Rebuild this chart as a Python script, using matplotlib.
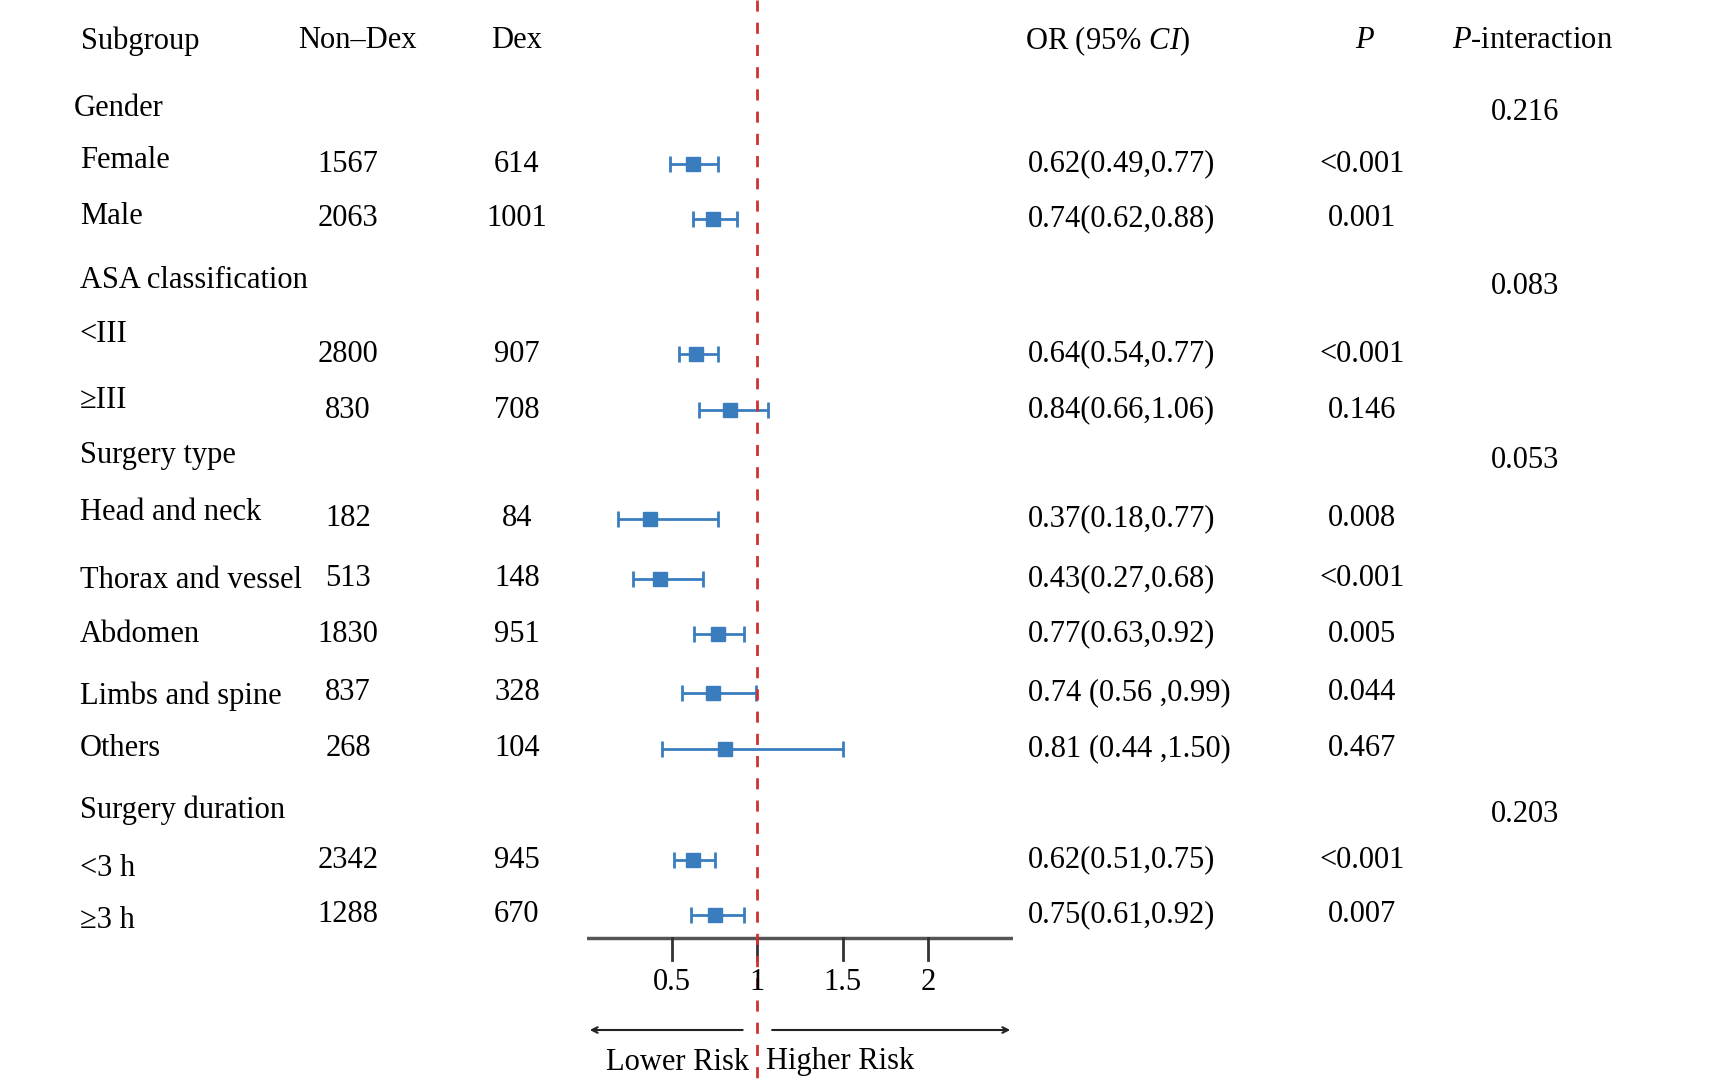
import matplotlib
matplotlib.use("Agg")
import matplotlib.pyplot as plt

plt.rcParams['font.family'] = ['Liberation Serif', 'DejaVu Serif']
plt.rcParams['mathtext.fontset'] = 'custom'
plt.rcParams['mathtext.rm'] = 'Liberation Serif'
plt.rcParams['mathtext.it'] = 'Liberation Serif:italic'

labels = ["Female", "Male", "<III", "≥III", "Head and neck", "Thorax and vessel",
          "Abdomen", "Limbs and spine", "Others", "<3 h", "≥3 h"]
nondex = ["1567", "2063", "2800", "830", "182", "513", "1830", "837", "268", "2342", "1288"]
dex = ["614", "1001", "907", "708", "84", "148", "951", "328", "104", "945", "670"]
orv = [0.62, 0.74, 0.64, 0.84, 0.37, 0.43, 0.77, 0.74, 0.81, 0.62, 0.75]
lo = [0.49, 0.62, 0.54, 0.66, 0.18, 0.27, 0.63, 0.56, 0.44, 0.51, 0.61]
hi = [0.77, 0.88, 0.77, 1.06, 0.77, 0.68, 0.92, 0.99, 1.50, 0.75, 0.92]
ortext = ["0.62(0.49,0.77)", "0.74(0.62,0.88)", "0.64(0.54,0.77)", "0.84(0.66,1.06)",
          "0.37(0.18,0.77)", "0.43(0.27,0.68)", "0.77(0.63,0.92)", "0.74 (0.56 ,0.99)",
          "0.81 (0.44 ,1.50)", "0.62(0.51,0.75)", "0.75(0.61,0.92)"]
pvals = ["<0.001", "0.001", "<0.001", "0.146", "0.008", "<0.001", "0.005", "0.044",
         "0.467", "<0.001", "0.007"]
groups = ["Gender", "ASA classification", "Surgery type", "Surgery duration"]
pint = ["0.216", "0.083", "0.053", "0.203"]

# layout (pixels)
row_y = [164, 219, 354, 410, 519, 579, 634, 693, 749, 860, 915]
label_y = [160, 216, 334, 400, 512, 580, 634, 696, 748, 868, 920]
group_y = [108, 281, 455, 810]

W, H = 1729, 1082
fig = plt.figure(figsize=(W/100, H/100), dpi=100)
tx = fig.add_axes([0, 0, 1, 1])
tx.set_xlim(0, W); tx.set_ylim(H, 0); tx.axis('off')
fs = 22

tx.text(81, 41, "Subgroup", fontsize=fs, va='center')
tx.text(357, 41, "Non\u2013Dex", fontsize=fs, va='center', ha='center')
tx.text(517, 41, "Dex", fontsize=fs, va='center', ha='center')
tx.text(1025, 41, "OR (95% $\\it{CI}$)", fontsize=fs, va='center')
tx.text(1365, 41, "$\\it{P}$", fontsize=fs, va='center', ha='center')
tx.text(1452, 41, "$\\it{P}$-interaction", fontsize=fs, va='center')
for g, y, p in zip(groups, group_y, pint):
    tx.text(74 if g == "Gender" else 80, y, g, fontsize=fs, va='center')
    tx.text(1525, y + 5, p, fontsize=fs, va='center', ha='center')
for i in range(len(labels)):
    tx.text(80, label_y[i], labels[i], fontsize=fs, va='center')
    tx.text(348, row_y[i], nondex[i], fontsize=fs, va='center', ha='center')
    tx.text(517, row_y[i], dex[i], fontsize=fs, va='center', ha='center')
    tx.text(1028, row_y[i], ortext[i], fontsize=fs, va='center')
    tx.text(1362, row_y[i], pvals[i], fontsize=fs, va='center', ha='center')

ax = fig.add_axes([587/W, 0, 426/W, 1])
ax.set_xlim(0, 2.5); ax.set_ylim(H, 0); ax.axis('off')
c = '#3a7dbf'
for i in range(len(orv)):
    ax.errorbar(orv[i], row_y[i], xerr=[[orv[i]-lo[i]], [hi[i]-orv[i]]], fmt='s',
                color=c, ms=10, capsize=6, elinewidth=2, capthick=2)
ax.plot([0, 2.5], [938, 938], color='#555555', lw=2.5)
for t in [0.5, 1, 1.5, 2]:
    ax.plot([t, t], [938, 960], color='#333333', lw=2)
    ax.text(t, 983, f"{t:g}", fontsize=fs, ha='center', va='center')
ax.plot([1, 1], [0, H], color='#d03030', lw=2, ls=(0, (4, 4)))
ax.annotate("", xy=(0, 1030), xytext=(0.93, 1030),
            arrowprops=dict(arrowstyle='->', color='#222222', lw=1.5))
ax.annotate("", xy=(2.5, 1030), xytext=(1.07, 1030),
            arrowprops=dict(arrowstyle='->', color='#222222', lw=1.5))
ax.text(0.95, 1062, "Lower Risk", fontsize=fs, ha='right', va='center')
ax.text(1.05, 1062, "Higher Risk", fontsize=fs, ha='left', va='center')

fig.savefig("out.png", dpi=100)
